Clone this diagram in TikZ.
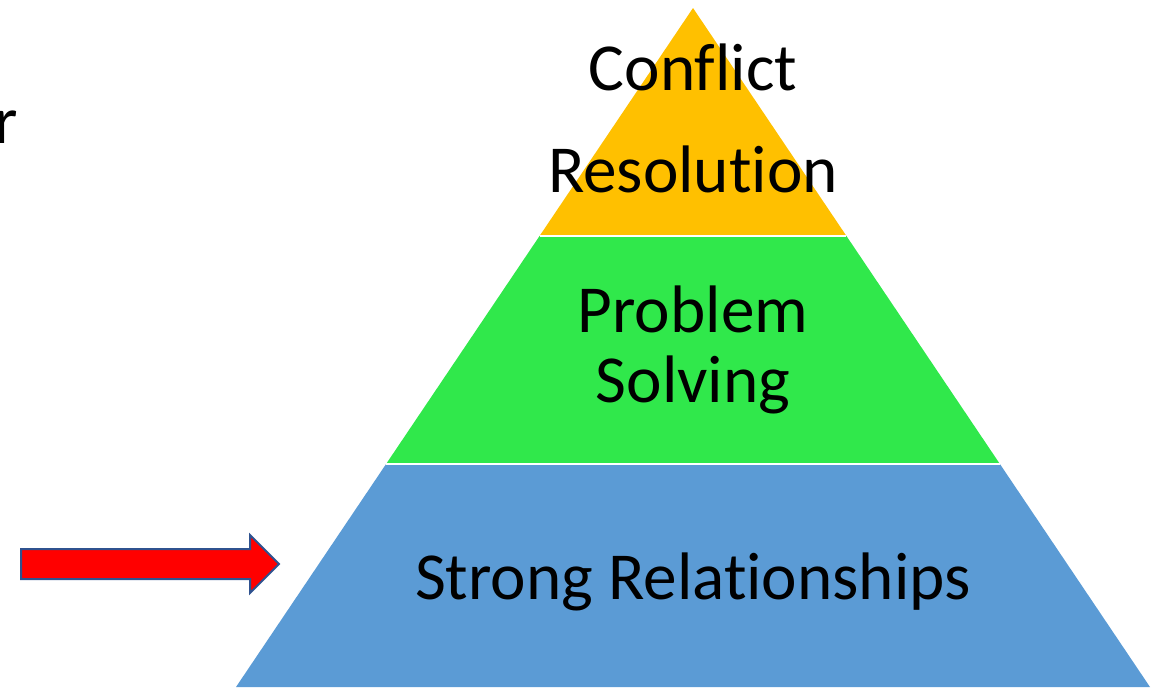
\documentclass[tikz,border=0pt]{standalone}
\usepackage{fontspec}
\setmainfont{Carlito}[Ligatures=CommonOff]
\usetikzlibrary{calc}

\definecolor{tierTop}{HTML}{FFC000}
\definecolor{tierMid}{HTML}{30E84B}
\definecolor{tierBase}{HTML}{5B9BD5}
\definecolor{arrowEdge}{HTML}{2F528F}

\def\ya{236}
\def\yb{464}

\begin{document}
\begin{tikzpicture}[x=0.5pt, y=-0.5pt, line join=miter,
                    tiertext/.style={font=\fontsize{33.6}{40}\selectfont,
                                     anchor=base, inner sep=0pt},
                    gap/.style={draw=white, line width=1pt}
                   ]

    \useasboundingbox (0,0) rectangle (1168,687);

    \coordinate (apex) at (693,8);
    \coordinate (bl) at (236,687);
    \coordinate (br) at (1150,687);

    \pgfmathsetmacro{\fa}{(\ya-8)/679}
    \pgfmathsetmacro{\fb}{(\yb-8)/679}

    % cut points on both sides
    \coordinate (al) at ($(apex)!\fa!(bl)$);
    \coordinate (ar) at ($(apex)!\fa!(br)$);
    \coordinate (bl2) at ($(apex)!\fb!(bl)$);
    \coordinate (br2) at ($(apex)!\fb!(br)$);

    \fill [tierTop] (apex) -- (ar) -- (al) -- cycle;
    \fill [tierMid] (al) -- (ar) -- (br2) -- (bl2) -- cycle;
    \fill [tierBase] (bl2) -- (br2) -- (br) -- (bl) -- cycle;
    \draw [gap] (al) -- (ar);
    \draw [gap] (bl2) -- (br2);

    \node [tiertext] (conflict) at (693,90) {Conflict};
    \node [tiertext] (resolution) at (693,192) {Resolution};
    \node [tiertext] (problem) at (693,332) {Problem};
    \node [tiertext] (solving) at (693,402) {Solving};
    \node [tiertext] (strong) at (693,599) {Strong Relationships};

    \node [tiertext, anchor=base east] (cut) at (18,143) {r};

    % block arrow pointing at the base
    \filldraw [fill=red, draw=arrowEdge, line width=1pt]
        (21,549) -- (250,549) -- (250,535) -- (279,564) --
        (250,593) -- (250,579) -- (21,579) -- cycle;

\end{tikzpicture}
\end{document}
